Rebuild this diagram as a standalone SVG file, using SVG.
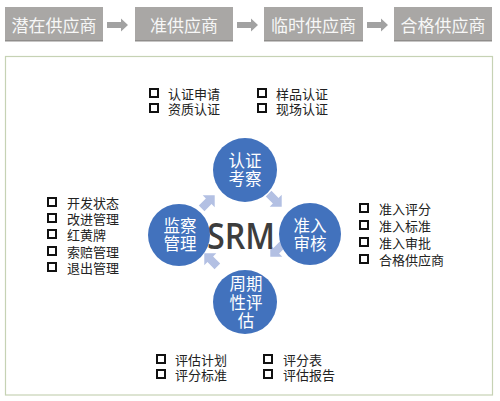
<svg xmlns="http://www.w3.org/2000/svg" width="500" height="401" viewBox="0 0 500 401">
<defs>
<style>
.stage{fill:#a9a7a5;}
.stext{font-family:"Noto Sans CJK SC",sans-serif;font-size:17px;fill:#f7f7f7;text-anchor:middle;dominant-baseline:central;}
.circ{fill:#4272bd;}
.ctext{font-family:"Noto Sans CJK SC",sans-serif;font-size:16.5px;fill:#ffffff;text-anchor:middle;dominant-baseline:central;}
.item{font-family:"Noto Sans CJK SC",sans-serif;font-size:13px;fill:#222222;dominant-baseline:central;}
.box{fill:none;stroke:#111111;stroke-width:2;}
.flow{fill:#b3c0e3;}
.garrow{fill:#a2a2a2;}
</style>
<polygon id="barrow" points="-9,-4 1,-4 1,-8.5 9.5,0 1,8.5 1,4 -9,4"/>
<rect id="cb" x="-4" y="-4" width="8" height="8"/>
</defs>
<rect width="500" height="401" fill="#ffffff"/>
<g id="stages">
<g id="stage1"><rect class="stage" x="5" y="7" width="98" height="34"/><rect x="5" y="40" width="98" height="1.5" fill="#8f8d8b"/><text class="stext" x="54" y="24">潜在供应商</text></g>
<g id="stage2"><rect class="stage" x="135" y="7" width="98" height="34"/><rect x="135" y="40" width="98" height="1.5" fill="#8f8d8b"/><text class="stext" x="184" y="24">准供应商</text></g>
<g id="stage3"><rect class="stage" x="264" y="7" width="99" height="34"/><rect x="264" y="40" width="99" height="1.5" fill="#8f8d8b"/><text class="stext" x="313.5" y="24">临时供应商</text></g>
<g id="stage4"><rect class="stage" x="394" y="7" width="98" height="34"/><rect x="394" y="40" width="98" height="1.5" fill="#8f8d8b"/><text class="stext" x="443" y="24">合格供应商</text></g>
</g>
<g id="stage-arrows">
<polygon class="garrow" points="107,22 121,22 121,18.5 128,25 121,31.5 121,28 107,28"/>
<polygon class="garrow" points="237,22 251,22 251,18.5 258,25 251,31.5 251,28 237,28"/>
<polygon class="garrow" points="367,22 381,22 381,18.5 388,25 381,31.5 381,28 367,28"/>
</g>
<rect id="frame" x="5.5" y="56.5" width="487" height="338.5" fill="#ffffff" stroke="#c6d2b4" stroke-width="1.2"/>
<g id="connectors">
<use href="#barrow" class="flow" transform="translate(208,202) rotate(-45)"/>
<use href="#barrow" class="flow" transform="translate(275,200) rotate(45)"/>
<use href="#barrow" class="flow" transform="translate(277,250) rotate(135)"/>
<use href="#barrow" class="flow" transform="translate(211,260) rotate(-135)"/>
</g>
<g id="srm"><text x="241" y="235" font-family="Open Sans, Liberation Sans, sans-serif" font-weight="600" font-size="36" fill="#3d3d3d" text-anchor="middle" dominant-baseline="central" textLength="68" lengthAdjust="spacingAndGlyphs">SRM</text></g>
<g id="node-top"><circle class="circ" cx="245" cy="170" r="32"/><text class="ctext" x="245" y="160">认证<tspan x="245" dy="18">考察</tspan></text></g>
<g id="node-right"><circle class="circ" cx="310" cy="234" r="31"/><text class="ctext" x="310" y="225">准入<tspan x="310" dy="18">审核</tspan></text></g>
<g id="node-left"><circle class="circ" cx="179" cy="235" r="31"/><text class="ctext" x="180" y="225">监察<tspan x="180" dy="18">管理</tspan></text></g>
<g id="node-bottom"><circle class="circ" cx="245" cy="302" r="32"/><text class="ctext" x="246" y="283">周期<tspan x="246" dy="19">性评</tspan><tspan x="246" dy="18">估</tspan></text></g>
<g id="list-top">
<use href="#cb" class="box" x="154" y="93"/><use href="#cb" class="box" x="154" y="108"/>
<text class="item" x="168" y="93">认证申请<tspan x="168" dy="15">资质认证</tspan></text>
<use href="#cb" class="box" x="262" y="93"/><use href="#cb" class="box" x="262" y="108"/>
<text class="item" x="276" y="93">样品认证<tspan x="276" dy="15">现场认证</tspan></text>
</g>
<g id="list-left">
<use href="#cb" class="box" x="52" y="202"/><use href="#cb" class="box" x="52" y="218"/><use href="#cb" class="box" x="52" y="234"/><use href="#cb" class="box" x="52" y="251"/><use href="#cb" class="box" x="52" y="267"/>
<text class="item" x="67" y="202">开发状态<tspan x="67" dy="16">改进管理</tspan><tspan x="67" dy="16">红黄牌</tspan><tspan x="67" dy="17">索赔管理</tspan><tspan x="67" dy="16">退出管理</tspan></text>
</g>
<g id="list-right">
<use href="#cb" class="box" x="364" y="208"/><use href="#cb" class="box" x="364" y="225"/><use href="#cb" class="box" x="364" y="242"/><use href="#cb" class="box" x="364" y="259"/>
<text class="item" x="379" y="208">准入评分<tspan x="379" dy="17">准入标准</tspan><tspan x="379" dy="17">准入审批</tspan><tspan x="379" dy="17">合格供应商</tspan></text>
</g>
<g id="list-bottom">
<use href="#cb" class="box" x="161" y="359"/><use href="#cb" class="box" x="161" y="374"/>
<text class="item" x="175" y="359">评估计划<tspan x="175" dy="15">评分标准</tspan></text>
<use href="#cb" class="box" x="268" y="359"/><use href="#cb" class="box" x="268" y="374"/>
<text class="item" x="283" y="359">评分表<tspan x="283" dy="15">评估报告</tspan></text>
</g>
</svg>
